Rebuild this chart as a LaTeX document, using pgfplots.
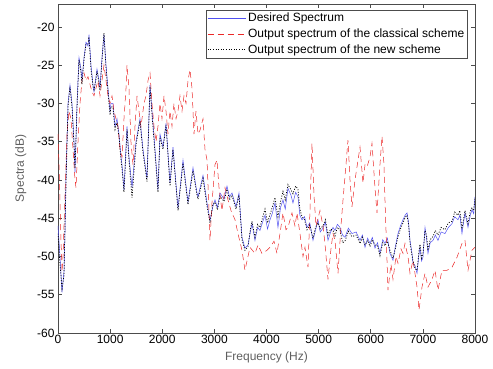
\documentclass[border=0pt]{standalone}
\usepackage{pgfplots}
\pgfplotsset{compat=1.18}
\usepackage{fontspec}
\setmainfont{Liberation Sans}
\definecolor{lblgray}{RGB}{95,95,95}
\definecolor{specblue}{RGB}{80,80,240}
\definecolor{specred}{RGB}{235,40,40}
\begin{document}
\begin{tikzpicture}[x=1pt,y=1pt]
\path[use as bounding box] (-58,-35) rectangle (435,333);
\begin{axis}[
  at={(0,0)}, anchor=south west,
  scale only axis, width=417pt, height=329pt,
  xmin=0, xmax=8000, ymin=-60, ymax=-17,
  xtick={0,1000,...,8000}, ytick={-60,-55,...,-20},
  scaled x ticks=false,
  /pgf/number format/assume math mode=true,
  /pgf/number format/1000 sep={},
  tick align=inside, tick pos=both,
  major tick length=4pt,
  axis line style={draw=black!70, line width=0.6pt},
  tick style={draw=black!70, line width=0.5pt},
  ticklabel style={font=\fontsize{12}{14}\selectfont},
  xticklabel style={yshift=1pt},
  xlabel={Frequency (Hz)}, ylabel={Spectra (dB)},
  label style={font=\fontsize{12}{14}\selectfont, text=lblgray},
  xlabel style={yshift=-1pt},
  ylabel style={yshift=4pt},
  legend style={at={(0.982,0.982)}, anchor=north east, draw=black!70, line width=0.5pt,
    font=\fontsize{12}{14}\selectfont, inner sep=1pt, row sep=1.5pt,
    legend cell align=left},
  legend image post style={line width=0.7pt},
  legend image code/.code={\draw[#1] (0,0) -- (38pt,0);},
]
\addplot[color=specblue, line width=0.5pt] coordinates {
(0,-46) (38,-50) (77,-54.7) (115,-52) (134,-47) (153,-40) (192,-30) (230,-27.6)
(269,-30) (307,-35) (326,-39) (365,-30) (403,-24) (441,-25.5) (460,-27) (499,-24)
(537,-22) (576,-22.5) (595,-21) (633,-25) (671,-27.5) (691,-28.5) (729,-26.5)
(748,-25.5) (787,-27) (806,-28) (844,-24) (882,-21) (921,-25) (959,-28) (998,-31)
(1017,-30) (1055,-30) (1094,-33) (1132,-32) (1170,-34) (1209,-37) (1228,-38)
(1266,-41.3) (1324,-33) (1362,-37) (1420,-41) (1496,-35) (1573,-32) (1631,-36)
(1707,-39.8) (1765,-27.6) (1803,-31) (1861,-36) (1918,-41.3) (1957,-34) (2014,-35.7)
(2072,-32.6) (2149,-40.4) (2206,-35.7) (2302,-43.7) (2398,-37.4) (2494,-42.9)
(2590,-38.4) (2667,-41.7) (2686,-42.2) (2782,-39.4) (2859,-43) (2916,-45.3)
(2970,-43.5) (3012,-42.6) (3060,-43.6) (3108,-41.7) (3185,-42.5) (3242,-40.8)
(3290,-42.2) (3338,-41.7) (3415,-43.5) (3472,-41.7) (3530,-47.5) (3587,-48.9)
(3645,-48.5) (3690,-46.8) (3722,-45.7) (3779,-47.9) (3830,-46.2) (3875,-46.6)
(3930,-45.4) (3971,-44.6) (4020,-46.4) (4067,-45.2) (4110,-44.4) (4163,-43.0)
(4220,-46.2) (4270,-43.6) (4316,-42.6) (4360,-43.8) (4412,-41.1) (4470,-42)
(4508,-43) (4560,-41.6) (4604,-42.2) (4640,-44.6) (4681,-45.2) (4730,-44.8)
(4777,-46.2) (4830,-45.6) (4892,-47.9) (4940,-46.6) (4988,-45.2) (5030,-46.8)
(5084,-46.3) (5130,-45.5) (5180,-47.9) (5230,-46.8) (5276,-46.2) (5314,-46.6)
(5360,-45.8) (5410,-46.2) (5460,-47.2) (5506,-47.5) (5570,-46.3) (5640,-47)
(5720,-46.8) (5794,-47.9) (5840,-47.2) (5890,-48.8) (5940,-47.6) (5986,-48.3)
(6030,-47.5) (6081,-48.9) (6130,-48.2) (6177,-49.6) (6230,-47.8) (6273,-48.3)
(6320,-47.6) (6369,-49.6) (6427,-50.5) (6475,-48.6) (6523,-47) (6570,-46)
(6619,-45.2) (6660,-44.6) (6696,-44.3) (6725,-45.5) (6753,-47.9) (6790,-49.5)
(6811,-50.9) (6850,-51.2) (6888,-52.2) (6920,-50) (6945,-48.8) (6975,-50.6)
(7002,-50.1) (7041,-46.2) (7070,-47.6) (7098,-49.6) (7140,-48.2) (7194,-47.9)
(7240,-47.2) (7290,-47.9) (7350,-46.8) (7424,-47) (7490,-46.2) (7559,-45.7)
(7610,-44.8) (7674,-45.2) (7710,-44.6) (7750,-47) (7808,-44.3) (7866,-46.2)
(7910,-44.6) (7942,-43.9) (7975,-44.4) (8000,-42.2)
};
\addlegendentry{Desired Spectrum}
\addplot[color=specred, line width=0.5pt, dash pattern=on 6pt off 4pt] coordinates {
(0,-34) (19,-38) (58,-48) (77,-52) (96,-50) (134,-42) (173,-34) (211,-31) (249,-32)
(288,-36) (326,-40) (345,-41) (384,-35) (422,-30) (460,-27) (499,-26) (537,-27)
(576,-26.5) (614,-27.5) (652,-28.5) (691,-29) (729,-28) (767,-27) (806,-29) (844,-27)
(882,-25) (921,-27) (959,-29) (998,-30) (1036,-29) (1074,-31) (1113,-32) (1151,-33)
(1189,-36) (1228,-37) (1266,-32) (1305,-28) (1324,-25) (1362,-28) (1400,-35)
(1439,-38) (1477,-33) (1516,-29) (1554,-31) (1592,-33) (1650,-30) (1688,-29)
(1727,-27) (1765,-26) (1803,-30) (1842,-33) (1880,-35) (1918,-33) (1957,-30)
(1995,-32) (2034,-29) (2072,-31) (2110,-34) (2149,-31) (2187,-33) (2225,-30)
(2264,-32) (2302,-31) (2340,-29) (2379,-31) (2417,-29) (2456,-30) (2494,-27)
(2532,-25.6) (2571,-28) (2609,-34) (2647,-31) (2686,-34) (2724,-33.5) (2782,-32)
(2820,-36) (2859,-37.4) (2897,-44) (2916,-47.9) (2954,-43) (3012,-38) (3050,-37.4)
(3089,-41) (3146,-44) (3204,-41) (3261,-42.6) (3319,-44) (3396,-45.2) (3453,-47)
(3530,-49.2) (3587,-51.8) (3645,-50) (3683,-48.8) (3779,-49.6) (3837,-48.5)
(3913,-49.6) (4009,-49.2) (4067,-48.8) (4144,-48) (4201,-49.6) (4259,-47)
(4316,-44.3) (4374,-46.5) (4412,-46.2) (4489,-44.3) (4546,-46) (4585,-44.3)
(4642,-47) (4700,-50) (4738,-48.8) (4796,-51.4) (4834,-44) (4873,-35.2) (4911,-42)
(4950,-46) (5026,-44) (5084,-46) (5122,-48.3) (5180,-53) (5237,-49) (5276,-47)
(5314,-47.9) (5372,-52.2) (5429,-46) (5468,-42.6) (5525,-38) (5563,-34.8) (5602,-40)
(5640,-43.5) (5698,-40) (5736,-38.3) (5794,-35.7) (5851,-40.4) (5890,-38) (5928,-38.3)
(5986,-37) (6024,-35.2) (6081,-41) (6120,-44.3) (6177,-38) (6216,-34.3) (6254,-38)
(6273,-42.6) (6331,-54.4) (6388,-51) (6427,-53) (6484,-50) (6523,-50.9) (6580,-49)
(6619,-49.6) (6657,-48.3) (6715,-50) (6753,-52.2) (6811,-50.5) (6888,-54) (6926,-57)
(6983,-54) (7041,-52.2) (7098,-54) (7175,-53) (7233,-51.8) (7290,-54.4) (7367,-51.8)
(7463,-51.8) (7559,-51.4) (7655,-50.1) (7751,-48.3) (7808,-47.9) (7866,-51.8)
(7942,-49.2) (8000,-48.8)
};
\addlegendentry{Output spectrum of the classical scheme}
\addplot[color=black, line width=0.75pt, dash pattern=on 1pt off 1.6pt] coordinates {
(0,-47) (38,-51) (77,-54.2) (115,-52.5) (134,-46) (153,-40.5) (192,-30.5) (230,-27.8)
(269,-30.5) (307,-35.5) (326,-38.5) (365,-30.5) (403,-24.3) (441,-26) (460,-27.5)
(499,-24.2) (537,-22.3) (576,-22.2) (595,-21.3) (633,-25.5) (671,-27.8) (691,-28.2)
(729,-26.8) (748,-25.8) (787,-27.4) (806,-28.3) (844,-24.4) (882,-20.8) (921,-25.4)
(959,-28.4) (998,-31.5) (1017,-30.4) (1055,-30.5) (1094,-33.4) (1132,-32.5)
(1170,-34.3) (1209,-37.4) (1228,-38.5) (1266,-41.6) (1324,-33.4) (1362,-37.4)
(1420,-42.3) (1496,-35.4) (1573,-32.3) (1631,-36.4) (1707,-40.2) (1765,-27.8)
(1803,-31.4) (1861,-36.5) (1918,-41.6) (1957,-34.4) (2014,-36) (2072,-32.8)
(2149,-40.8) (2206,-36) (2302,-44) (2398,-37.8) (2494,-43.2) (2590,-38.8)
(2667,-42) (2686,-42.5) (2782,-39.8) (2859,-43.4) (2916,-45.6) (2970,-43.2)
(3012,-42.9) (3060,-43.9) (3108,-42.1) (3185,-42.8) (3242,-41.2) (3290,-42.6)
(3338,-42) (3415,-43.8) (3472,-42) (3530,-47.8) (3587,-49.2) (3645,-48.7)
(3690,-46.5) (3722,-45.4) (3779,-47.5) (3830,-45.8) (3875,-46.2) (3930,-44.8)
(3971,-43.8) (4020,-45.6) (4067,-44.5) (4110,-43.6) (4163,-42.3) (4220,-44.8)
(4270,-42.8) (4316,-41.5) (4360,-42.6) (4412,-40.6) (4470,-41.3) (4508,-41.8)
(4560,-40.8) (4604,-41.2) (4640,-43.8) (4681,-44.8) (4730,-45.2) (4777,-46.5)
(4830,-45.9) (4892,-47.6) (4940,-46.2) (4988,-45.6) (5030,-46.4) (5084,-46)
(5130,-45.2) (5180,-47.2) (5230,-46.4) (5276,-46.6) (5314,-47.3) (5360,-46.2)
(5410,-46.5) (5460,-48.2) (5506,-48) (5570,-46.7) (5640,-47.4) (5720,-47.2)
(5794,-48.3) (5840,-47.5) (5890,-48.5) (5940,-47.9) (5986,-48.7) (6030,-47.8)
(6081,-48.5) (6130,-48.6) (6177,-49.9) (6230,-48.2) (6273,-48.6) (6320,-48)
(6369,-49.2) (6427,-50.2) (6475,-48.9) (6523,-47.4) (6570,-46.4) (6619,-45.6)
(6660,-44.9) (6696,-44.6) (6725,-45.8) (6753,-48.2) (6790,-49.8) (6811,-50.6)
(6850,-51.6) (6888,-51.8) (6920,-49.6) (6945,-48.4) (6975,-50.2) (7002,-49.6)
(7041,-46.6) (7070,-47.2) (7098,-49.2) (7140,-47.8) (7194,-47.4) (7240,-46.6)
(7290,-47.2) (7350,-46.2) (7424,-46.5) (7490,-45.6) (7559,-45.4) (7610,-44.2)
(7674,-44.6) (7710,-44) (7750,-46.4) (7808,-44) (7866,-45.7) (7910,-44.1)
(7942,-43.6) (7975,-44) (8000,-42.4)
};
\addlegendentry{Output spectrum of the new scheme}
\end{axis}
\end{tikzpicture}
\end{document}
